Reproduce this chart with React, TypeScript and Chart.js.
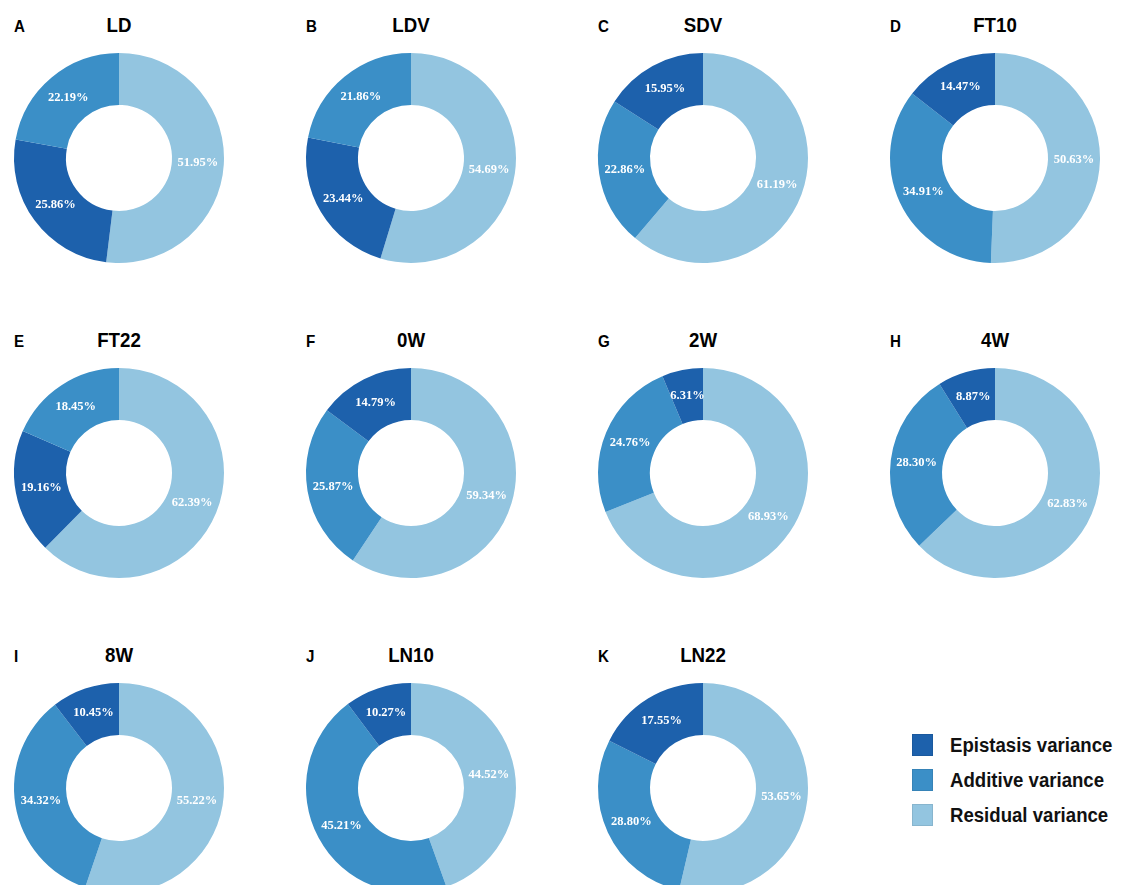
import React, { useEffect, useRef } from "react";
import { Chart, registerables } from "chart.js";

Chart.register(...registerables);

// Variance decomposition per trait (percent of phenotypic variance)
const panelLetters = ["A", "B", "C", "D", "E", "F", "G", "H", "I", "J", "K"];
const traits = ["LD", "LDV", "SDV", "FT10", "FT22", "0W", "2W", "4W", "8W", "LN10", "LN22"];
const epistasis = [25.86, 23.44, 15.95, 14.47, 19.16, 14.79, 6.31, 8.87, 10.45, 10.27, 17.55];
const additive = [22.19, 21.86, 22.86, 34.91, 18.45, 25.87, 24.76, 28.3, 34.32, 45.21, 28.8];
const residual = [51.95, 54.69, 61.19, 50.63, 62.39, 59.34, 68.93, 62.83, 55.22, 44.52, 53.65];

const componentNames = ["Epistasis variance", "Additive variance", "Residual variance"];
const componentColors = ["#1d61ac", "#3b8fc7", "#93c5e0"];

const SANS = "'Liberation Sans', Arial, Helvetica, sans-serif";
const SERIF = "'Liberation Serif', 'Times New Roman', serif";

const COLS = 4;
const X0 = 119;
const Y0 = 158;
const DX = 292;
const DY = 315;
const OUTER = 105;
const INNER = 53;
const CANVAS = 240;

// White percentage labels placed at the centre of each arc
const arcLabels = {
  id: "arcLabels",
  afterDatasetsDraw(chart: any) {
    const { ctx } = chart;
    const meta = chart.getDatasetMeta(0);
    const values = chart.data.datasets[0].data as number[];
    ctx.save();
    ctx.fillStyle = "#ffffff";
    ctx.font = `bold 12.5px ${SERIF}`;
    ctx.textAlign = "center";
    ctx.textBaseline = "middle";
    meta.data.forEach((arc: any, i: number) => {
      const p = arc.tooltipPosition(false);
      ctx.fillText(values[i].toFixed(2) + "%", p.x, p.y);
    });
    ctx.restore();
  },
};

function Donut({ index }: { index: number }) {
  const ref = useRef<HTMLCanvasElement | null>(null);

  useEffect(() => {
    if (!ref.current) return;
    // Residual first, then the two genetic components from larger to smaller
    const parts = [
      { v: epistasis[index], c: componentColors[0] },
      { v: additive[index], c: componentColors[1] },
    ].sort((a, b) => b.v - a.v);
    const slices = [{ v: residual[index], c: componentColors[2] }, ...parts];

    const chart = new Chart(ref.current, {
      type: "doughnut",
      data: {
        labels: slices.map((s) => s.c),
        datasets: [
          {
            data: slices.map((s) => s.v),
            backgroundColor: slices.map((s) => s.c),
            borderWidth: 0,
            radius: OUTER,
          } as any,
        ],
      },
      options: {
        responsive: false,
        animation: false,
        events: [],
        cutout: `${(INNER / OUTER) * 100}%`,
        layout: { padding: 0 },
        plugins: { legend: { display: false }, tooltip: { enabled: false } },
      } as any,
      plugins: [arcLabels],
    });
    return () => chart.destroy();
  }, [index]);

  const col = index % COLS;
  const row = Math.floor(index / COLS);
  const cx = X0 + DX * col;
  const cy = Y0 + DY * row;
  const top = cy - OUTER;

  return (
    <>
      <canvas
        ref={ref}
        width={CANVAS}
        height={CANVAS}
        style={{
          position: "absolute",
          left: cx - CANVAS / 2,
          top: cy - CANVAS / 2,
          width: CANVAS,
          height: CANVAS,
        }}
      />
      <div
        style={{
          position: "absolute",
          left: cx,
          top: top - 29,
          fontFamily: SANS,
          fontWeight: "bold",
          fontSize: 21,
          lineHeight: "21px",
          whiteSpace: "nowrap",
          color: "#000",
          transform: "translate(-50%, -50%) scaleX(0.89)",
        }}
      >
        {traits[index]}
      </div>
      <div
        style={{
          position: "absolute",
          left: cx - OUTER,
          top: top - 27,
          fontFamily: SANS,
          fontWeight: "bold",
          fontSize: 17,
          lineHeight: "17px",
          color: "#000",
          transformOrigin: "left center",
          transform: "translateY(-50%) scaleX(0.89)",
        }}
      >
        {panelLetters[index]}
      </div>
    </>
  );
}

function Legend() {
  return (
    <>
      {componentNames.map((name, i) => (
        <React.Fragment key={name}>
          <div
            style={{
              position: "absolute",
              left: 912,
              top: 734 + i * 35,
              width: 21,
              height: 22,
              background: componentColors[i],
              boxShadow: "inset 0 0 0 1px rgba(0,0,0,0.08)",
            }}
          />
          <div
            style={{
              position: "absolute",
              left: 950,
              top: 745 + i * 35,
              fontFamily: SANS,
              fontWeight: "bold",
              fontSize: 20,
              lineHeight: "20px",
              whiteSpace: "nowrap",
              color: "#111",
              transformOrigin: "left center",
              transform: "translateY(-50%) scaleX(0.93)",
            }}
          >
            {name}
          </div>
        </React.Fragment>
      ))}
    </>
  );
}

export default function App() {
  return (
    <div
      style={{
        position: "absolute",
        left: 0,
        top: 0,
        width: 1121,
        height: 885,
        overflow: "hidden",
        background: "#ffffff",
      }}
    >
      {traits.map((_, i) => (
        <Donut key={traits[i]} index={i} />
      ))}
      <Legend />
    </div>
  );
}
